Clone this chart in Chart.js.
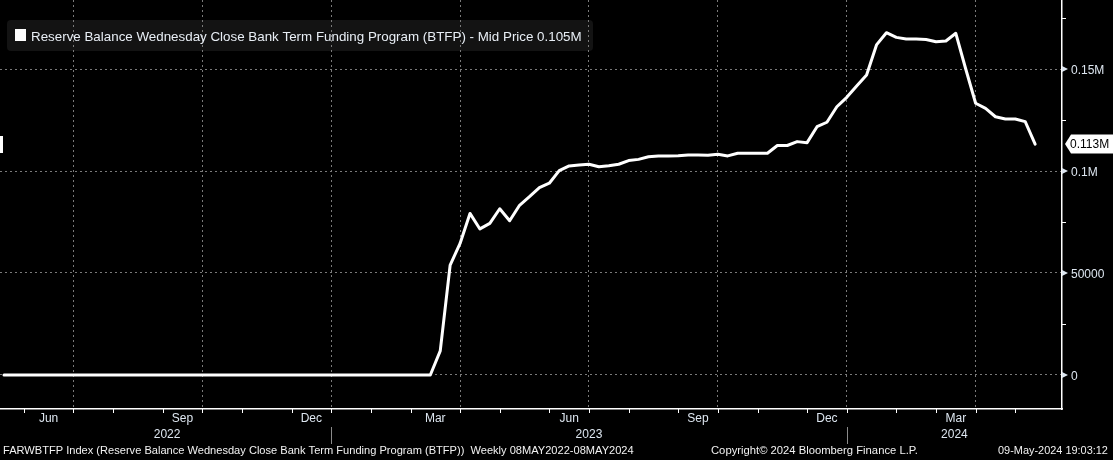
<!DOCTYPE html>
<html><head><meta charset="utf-8">
<script src="https://cdn.jsdelivr.net/npm/chart.js@4"></script>
<style>html,body{margin:0;padding:0;background:#000;}#wrap{width:1113px;height:460px;position:relative}</style>
</head><body><div id="wrap"><canvas id="c" width="1113" height="460"></canvas></div>
<script>
// ---- data ----
const firstWeek = '2022-05-11';   // weekly (Wednesday) observations
const values = [
  0,0,0,0,0,0,0,0,0,0, 0,0,0,0,0,0,0,0,0,0,
  0,0,0,0,0,0,0,0,0,0, 0,0,0,0,0,0,0,0,0,0,
  0,0,0,0,
  11800, 53900, 64500, 79200, 71600, 74300, 81500, 75600, 83200, 87400,
  91800, 94000, 100200, 102500, 102900, 103300, 102100, 102600, 103300, 105100,
  105700, 107000, 107400, 107400, 107500, 107800, 107800, 107700, 108200, 107400,
  108700, 108700, 108700, 108700, 112500, 112500, 114400, 113900, 121700, 123900,
  131500, 136100, 141700, 147100, 161800, 167800, 165500, 164700, 164700, 164500,
  163400, 163700, 167500, 150000, 133200, 130700, 126600, 125500, 125500, 124200,
  113200
];
const monthStarts = ['2022-06-01','2022-07-01','2022-08-01','2022-09-01','2022-10-01','2022-11-01','2022-12-01',
  '2023-01-01','2023-02-01','2023-03-01','2023-04-01','2023-05-01','2023-06-01','2023-07-01','2023-08-01','2023-09-01','2023-10-01','2023-11-01','2023-12-01',
  '2024-01-01','2024-02-01','2024-03-01','2024-04-01','2024-05-01'];
const monthNames = ['Jan','Feb','Mar','Apr','May','Jun','Jul','Aug','Sep','Oct','Nov','Dec'];
const labeledMonths = ['Mar','Jun','Sep','Dec'];
const gridMonths = ['Jan','Apr','Jul','Oct'];
const yTickValues = [0, 50000, 100000, 150000];
const yTickLabels = ['0', '50000', '0.1M', '0.15M'];
const yMinorValues = [25000, 75000, 125000, 175000];
const legendText = 'Reserve Balance Wednesday Close Bank Term Funding Program (BTFP) - Mid Price 0.105M';
const lastValueText = '0.113M';
const footerLeft = 'FARWBTFP Index (Reserve Balance Wednesday Close Bank Term Funding Program (BTFP))  Weekly 08MAY2022-08MAY2024';
const footerMid = 'Copyright\u00A9 2024 Bloomberg Finance L.P.';
const footerRight = '09-May-2024 19:03:12';

// ---- derived ----
const DAY = 86400000;
const t0 = Date.parse(firstWeek + 'T00:00:00Z');
const dates = values.map((v, i) => t0 + i * 7 * DAY);
const monthTicks = monthStarts.map(m => {
  const tm = Date.parse(m + 'T00:00:00Z');
  let idx = 0;
  dates.forEach((d, i) => { if (d < tm) idx = i; });
  const mo = new Date(tm).getUTCMonth();
  return { idx, name: monthNames[mo], year: new Date(tm).getUTCFullYear() };
});
const gridIdx = monthTicks.filter(t => gridMonths.includes(t.name)).map(t => t.idx);

const FONT = '"Liberation Sans", Arial, sans-serif';
const LABEL_COLOR = '#dde6f0';

function fitText(c, text, x, y, width, baseSize) {
  c.font = baseSize + 'px ' + FONT;
  const w = c.measureText(text).width;
  const size = baseSize * width / w;
  c.font = size.toFixed(2) + 'px ' + FONT;
  c.fillText(text, x, y);
}

const bbPlugin = {
  id: 'bb',
  beforeDraw(chart) {
    const c = chart.ctx;
    c.save();
    c.fillStyle = '#000';
    c.fillRect(0, 0, chart.width, chart.height);
    c.fillStyle = '#131313';
    c.beginPath();
    c.roundRect(7, 20, 586, 31, 4);
    c.fill();
    c.restore();
  },
  afterDraw(chart) {
    const c = chart.ctx;
    const xs = chart.scales.x, ys = chart.scales.y;
    const ca = chart.chartArea;
    c.save();
    // legend
    c.fillStyle = '#fff';
    c.fillRect(15, 29, 11, 12);
    c.fillStyle = '#e8eef5';
    c.textBaseline = 'middle';
    c.textAlign = 'left';
    fitText(c, legendText, 31, 37, 551, 13);

    // y axis minor ticks and major markers
    c.strokeStyle = '#fff';
    c.lineWidth = 1;
    yMinorValues.forEach(v => {
      const y = Math.round(ys.getPixelForValue(v)) + 0.5;
      c.beginPath(); c.moveTo(ca.right, y); c.lineTo(ca.right + 4, y); c.stroke();
    });
    c.fillStyle = LABEL_COLOR;
    yTickValues.forEach(v => {
      const y = ys.getPixelForValue(v);
      c.beginPath(); c.moveTo(ca.right, y - 3); c.lineTo(ca.right + 6, y); c.lineTo(ca.right, y + 3); c.closePath(); c.fill();
    });

    // x axis month ticks
    c.strokeStyle = '#fff';
    monthTicks.forEach(t => {
      const x = Math.round(xs.getPixelForValue(t.idx)) + 0.5;
      c.beginPath(); c.moveTo(x, ca.bottom); c.lineTo(x, ca.bottom + 4); c.stroke();
    });
    // month labels
    c.font = '12px ' + FONT;
    c.fillStyle = LABEL_COLOR;
    c.textAlign = 'center';
    monthTicks.forEach((t, k) => {
      if (!labeledMonths.includes(t.name)) return;
      const x1 = xs.getPixelForValue(t.idx);
      const next = monthTicks[k + 1];
      const x2 = next ? xs.getPixelForValue(next.idx) : x1 + 40;
      c.fillText(t.name, (x1 + x2) / 2, 419);
    });
    // year labels & separators
    const yearsList = [...new Set(monthTicks.map(t => t.year))];
    let yearStartX = xs.getPixelForValue(0) - 1;
    yearsList.forEach((yr, k) => {
      const jan = monthTicks.find(t => t.year === yearsList[k + 1] && t.name === 'Jan');
      const endX = jan ? xs.getPixelForValue(jan.idx) : ca.right;
      c.fillStyle = LABEL_COLOR;
      c.fillText(String(yr), (yearStartX + endX) / 2, 435);
      if (jan) {
        c.strokeStyle = '#8a8a8a';
        const sx = Math.round(endX) + 0.5;
        c.beginPath(); c.moveTo(sx, 427); c.lineTo(sx, 444); c.stroke();
      }
      yearStartX = endX;
    });

    // footer
    c.fillStyle = '#f2f2f2';
    c.textAlign = 'left';
    fitText(c, footerLeft, 3, 451, 631, 11);
    fitText(c, footerMid, 711, 451, 207, 11);
    fitText(c, footerRight, 998, 451, 110, 11);

    // last value tag
    const lv = values[values.length - 1];
    const ly = ys.getPixelForValue(lv);
    c.fillStyle = '#fff';
    c.beginPath();
    c.moveTo(ca.right + 3, ly);
    c.lineTo(ca.right + 9, ly - 9.5);
    c.lineTo(1113, ly - 9.5);
    c.lineTo(1113, ly + 9.5);
    c.lineTo(ca.right + 9, ly + 9.5);
    c.closePath();
    c.fill();
    c.fillStyle = '#000';
    c.textAlign = 'left';
    c.font = '12px ' + FONT;
    c.fillText(lastValueText, ca.right + 8, ly + 1);
    // left marker
    c.fillStyle = '#fff';
    c.fillRect(0, Math.round(ly) - 8, 3, 17);
    c.restore();
  }
};

function noPad(s) { s.paddingTop = 0; s.paddingBottom = 0; s.paddingLeft = 0; s.paddingRight = 0; }

new Chart(document.getElementById('c').getContext('2d'), {
  type: 'line',
  data: {
    datasets: [{
      data: values.map((v, i) => ({ x: i, y: v })),
      borderColor: '#ffffff',
      borderWidth: 3,
      pointRadius: 0,
      tension: 0,
      fill: false,
      borderJoinStyle: 'round',
      borderCapStyle: 'round'
    }]
  },
  options: {
    responsive: false,
    animation: false,
    devicePixelRatio: 1,
    layout: { padding: 0 },
    plugins: { legend: { display: false }, tooltip: { enabled: false } },
    scales: {
      x: {
        type: 'linear',
        min: -0.403,
        max: 106.71,
        afterBuildTicks: s => { s.ticks = gridIdx.map(v => ({ value: v })); },
        afterFit: s => { s.height = 51; noPad(s); },
        grid: { color: '#7a7a7a', lineWidth: 1, drawTicks: false },
        border: { display: true, color: '#ffffff', width: 1.5, dash: [2, 3] },
        ticks: { display: false }
      },
      y: {
        position: 'right',
        min: -16667,
        max: 183824,
        afterBuildTicks: s => { s.ticks = yTickValues.map(v => ({ value: v })); },
        afterFit: s => { s.width = 51; noPad(s); },
        grid: { color: '#7a7a7a', lineWidth: 1, drawTicks: false },
        border: { display: true, color: '#ffffff', width: 1.5, dash: [2, 3] },
        ticks: {
          color: LABEL_COLOR,
          padding: 9,
          labelOffset: 2,
          font: { family: '"Liberation Sans", Arial, sans-serif', size: 12 },
          callback: (v) => yTickLabels[yTickValues.indexOf(v)]
        }
      }
    }
  },
  plugins: [bbPlugin]
});
</script>
</body></html>
